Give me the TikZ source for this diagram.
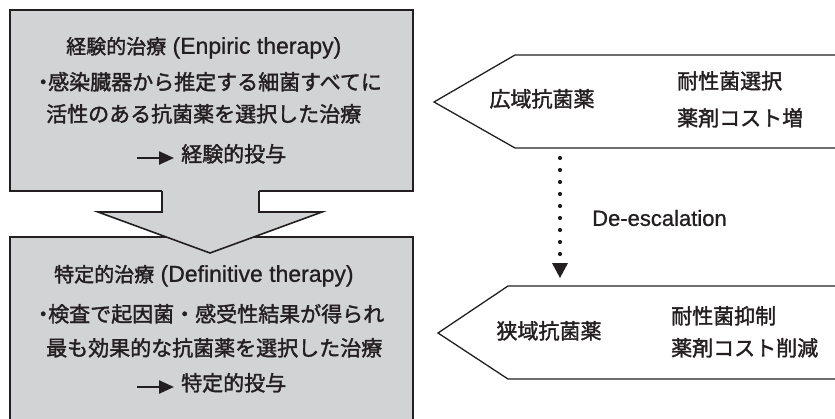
\documentclass[tikz,border=0pt]{standalone}
\usepackage{fontspec}
\setmainfont[FakeBold=0.9]{Liberation Sans}
\newfontfamily\jp[FakeBold=1.7]{Noto Sans CJK JP}
\usetikzlibrary{arrows.meta}
\definecolor{boxgray}{RGB}{210,211,213}
\definecolor{ink}{RGB}{35,31,32}
\begin{document}
\begin{tikzpicture}[x=1pt,y=-1pt,line join=miter,
  outline/.style={draw=ink,line width=1.6pt},
  pent/.style={draw=ink,line width=1.3pt},
  txt/.style={inner sep=0pt,text=ink,text height=0.84em,text depth=0.08em,font=\jp\fontsize{21}{21}\selectfont},
  ttl/.style={txt,font=\fontsize{23}{23}\selectfont},
  lat/.style={inner sep=0pt,text=ink,font=\fontsize{22}{22}\selectfont},
  textarrow/.style={draw=ink,line width=2.4pt,-{Triangle[length=15pt,width=13pt]}},
]
\useasboundingbox (0,0) rectangle (835,418);

% ---------- left boxes ----------
\draw[outline,fill=boxgray] (10,10) rectangle (413,191);
\fill[boxgray] (10,237) rectangle (413,420);
\draw[outline] (10,420) -- (10,237) -- (413,237) -- (413,420);

% big arrow between boxes
\coordinate (sl) at (162,191);
\coordinate (sr) at (259,191);
\coordinate (tip) at (210,253);
\fill[boxgray] (162,186) -- (162,212) -- (98,212) -- (tip) -- (322,212) -- (259,212) -- (259,186) -- cycle;
\draw[outline,line cap=square] (sl) -- (162,212) -- (98,212) -- (tip) -- (322,212) -- (259,212) -- (sr);

% texts in top box
\node[ttl,anchor=west] (t1) at (66,50) {{\jp\fontsize{20}{20}\selectfont 経験的治療} (Enpiric therapy)};
\node[txt,anchor=west] (t1a) at (32.5,86) {\makebox[15.5pt][l]{・}感染臓器から推定する細菌すべてに};
\node[txt,anchor=west] (t1b) at (46,118) {活性のある抗菌薬を選択した治療};
\node[txt,anchor=west] (t1c) at (181,158) {経験的投与};
\coordinate (a1) at (137,158);
\draw[textarrow] (a1) -- ([xshift=-7pt]t1c.west);

% texts in bottom box
\node[ttl,anchor=west] (t2) at (54,278) {{\jp\fontsize{20}{20}\selectfont 特定的治療} (Definitive therapy)};
\node[txt,anchor=west] (t2a) at (32.5,318) {\makebox[15.5pt][l]{・}検査で起因菌・感受性結果が得られ};
\node[txt,anchor=west] (t2b) at (46,352) {最も効果的な抗菌薬を選択した治療};
\node[txt,anchor=west] (t2c) at (181,387) {特定的投与};
\coordinate (a2) at (137,387);
\draw[textarrow] (a2) -- ([xshift=-7pt]t2c.west);

% ---------- right pentagons ----------
\draw[pent] (836,55) -- (515,55) -- (434,102) -- (515,148) -- (836,148);
\draw[pent] (836,286) -- (508,286) -- (438,333) -- (508,379) -- (836,379);

\node[txt] (broad) at (542,103) {広域抗菌薬};
\node[txt,anchor=west] (b1) at (677,85) {耐性菌選択};
\node[txt,anchor=west] (b2) at (677,122) {薬剤コスト増};

\node[txt] (narrow) at (549,335) {狭域抗菌薬};
\node[txt,anchor=west] (n1) at (671,320) {耐性菌抑制};
\node[txt,anchor=west] (n2) at (671,352) {薬剤コスト削減};

% ---------- de-escalation arrow ----------
\coordinate (d0) at (560,158);
\coordinate (d1) at (560,256);
\coordinate (dh) at (560,278);
\draw[ink,line width=4.2pt,line cap=round,dash pattern=on 0pt off 12pt] (d0) -- (d1);
\fill[ink] (552,263) -- (568,263) -- (dh) -- cycle;
\node[lat,anchor=west] (de) at (592,218) {De-escalation};
\end{tikzpicture}
\end{document}
